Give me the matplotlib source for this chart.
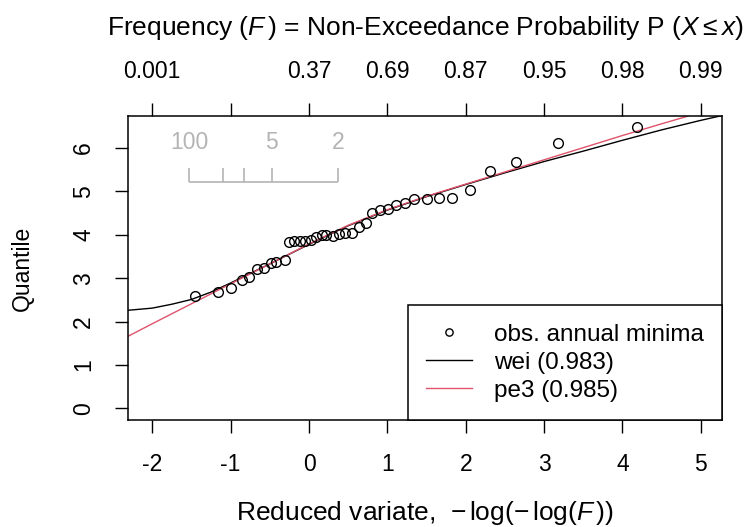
import numpy as np
import matplotlib
matplotlib.use("Agg")
import matplotlib.pyplot as plt

obs_u = [-1.46, -1.16, -0.99, -0.86, -0.76, -0.66, -0.57, -0.49, -0.42, -0.31,
         -0.26, -0.19, -0.12, -0.05, 0.03, 0.09, 0.16, 0.22, 0.30, 0.38,
         0.46, 0.55, 0.64, 0.73, 0.81, 0.91, 1.01, 1.11, 1.23, 1.34,
         1.50, 1.66, 1.83, 2.05, 2.31, 2.64, 3.18, 4.19]
obs_q = [2.59, 2.68, 2.77, 2.95, 3.02, 3.21, 3.23, 3.35, 3.37, 3.42,
         3.83, 3.85, 3.85, 3.85, 3.88, 3.95, 4.00, 4.00, 3.97, 4.02,
         4.04, 4.04, 4.18, 4.27, 4.50, 4.57, 4.60, 4.69, 4.74, 4.83,
         4.83, 4.85, 4.85, 5.03, 5.47, 5.68, 6.12, 6.49]

# fitted quantile curves
wei_u = [-2.31, -2.0, -1.75, -1.5, -1.25, -1.0, -0.5, 0.0, 0.5, 1.0,
         1.5, 2.0, 2.5, 3.0, 3.5, 4.0, 4.5, 5.0, 5.27]
wei_q = [2.26, 2.31, 2.40, 2.51, 2.68, 2.89, 3.33, 3.78, 4.21, 4.57,
         4.88, 5.16, 5.43, 5.69, 5.93, 6.18, 6.42, 6.64, 6.75]
pe3_u = [-2.31, -2.0, -1.5, -1.0, -0.5, 0.0, 0.5, 1.0, 1.5, 2.0,
         2.5, 3.0, 3.5, 4.0, 4.5, 4.84]
pe3_q = [1.66, 1.95, 2.41, 2.87, 3.33, 3.79, 4.22, 4.58, 4.89, 5.17,
         5.45, 5.73, 6.01, 6.29, 6.56, 6.74]

bottom_ticks = [-2, -1, 0, 1, 2, 3, 4, 5]
top_ticks = [-2, -1, 0, 1, 2, 3, 4, 5]
top_labels = ["0.001", "", "0.37", "0.69", "0.87", "0.95", "0.98", "0.99"]
y_ticks = [0, 1, 2, 3, 4, 5, 6]

# return period scale (years)
rp_years = [100, 20, 10, 5, 2]
rp_labels = ["100", "", "", "5", "2"]

plt.rcParams["font.family"] = ["Liberation Sans", "DejaVu Sans"]
plt.rcParams["mathtext.fontset"] = "custom"
plt.rcParams["mathtext.rm"] = "Liberation Sans"
plt.rcParams["mathtext.it"] = "Liberation Sans:italic"
plt.rcParams["axes.unicode_minus"] = False
plt.rcParams["font.size"] = 16.5

red = "#DF536B"
grey = "#b4b4b4"

fig = plt.figure(figsize=(7.49, 5.27), dpi=100)
ax = fig.add_axes([128/749, 1-420/527, 594/749, 304/527])

ax.plot(obs_u, obs_q, "o", mfc="none", mec="black", ms=7, mew=1.0,
        label="obs. annual minima", zorder=3)
ax.plot(wei_u, wei_q, color="black", lw=1.0, label="wei (0.983)")
ax.plot(pe3_u, pe3_q, color=red, lw=1.0, label="pe3 (0.985)")

ax.set_xlim(-2.31, 5.27)
ax.set_ylim(-0.27, 6.74)
ax.set_xticks(bottom_ticks)
ax.set_yticks(y_ticks)
ax.tick_params(length=9.5, width=1.0, pad=14)
ax.tick_params(axis="y", labelrotation=90)
for lab in ax.get_yticklabels():
    lab.set_va("center")
for s in ax.spines.values():
    s.set_linewidth(1.1)

ax.set_xlabel("Reduced variate,  $\u2212\\,\\log(\u2212\\,\\log(F\\,))$",
              va="center", fontsize=19)
ax.xaxis.set_label_coords(0.5, -0.306)
ax.set_ylabel("Quantile", va="center")
ax.yaxis.set_label_coords(-0.178, 0.5)

top = ax.twiny()
top.set_xlim(ax.get_xlim())
top.set_xticks(top_ticks)
top.set_xticklabels(top_labels)
top.tick_params(length=9.5, width=1.0, pad=14)
top.set_xlabel(r"Frequency $(F\,)$ = Non-Exceedance Probability P $(X \leq x)$",
               va="center", fontsize=19)
top.xaxis.set_label_coords(0.5, 1.289)
for s in top.spines.values():
    s.set_visible(False)

# return period inset
rp_u = -np.log(-np.log(1.0 / np.array(rp_years)))
inset_y = 5.22
ax.hlines(inset_y, rp_u.min(), rp_u.max(), color=grey, lw=1.2)
ax.vlines(rp_u, inset_y, inset_y + 0.32, color=grey, lw=1.2)
for u, t in zip(rp_u, rp_labels):
    ax.text(u, 6.14, t, color=grey, ha="center", va="center")

leg = ax.legend(loc="lower right", borderaxespad=0, fancybox=False,
                edgecolor="black", framealpha=1, handlelength=1.9,
                handletextpad=0.9, labelspacing=0.25, borderpad=0.75,
                markerscale=0.75, prop={"size": 17.5})
leg.get_frame().set_linewidth(1.1)

fig.savefig("out.png", dpi=100)
